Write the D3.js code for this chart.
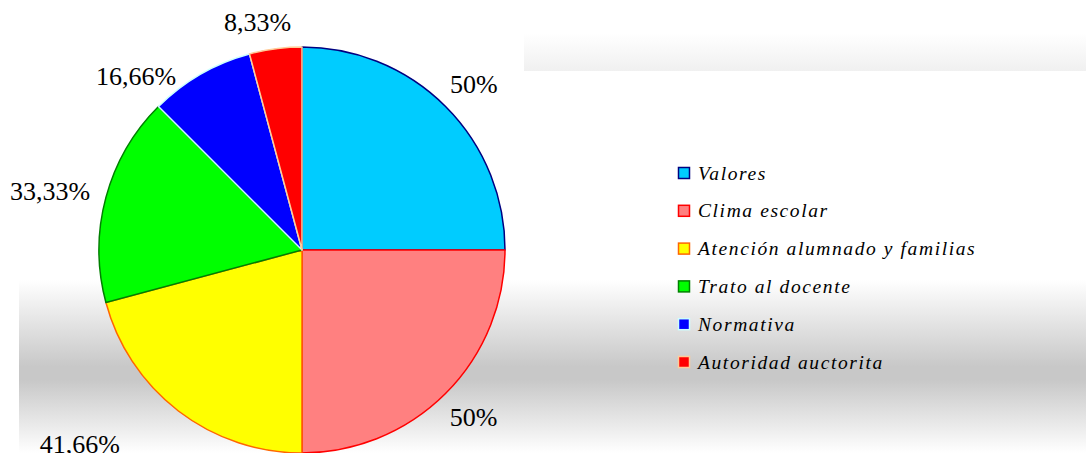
<!DOCTYPE html>
<html>
<head>
<meta charset="utf-8">
<script src="https://cdn.jsdelivr.net/npm/d3@7/dist/d3.min.js"></script>
<style>
  body { margin: 0; background: #fff; }
  svg { display: block; }
  svg text { font-family: "Liberation Serif", "Times New Roman", serif; }
</style>
</head>
<body>
<div id="chart"></div>
<script>
// data
var categories = ["Valores", "Clima escolar", "Atención alumnado y familias",
                  "Trato al docente", "Normativa", "Autoridad auctorita"];
var values = [50, 50, 41.66, 33.33, 16.66, 8.33];
var valueLabels = ["50%", "50%", "41,66%", "33,33%", "16,66%", "8,33%"];

var fills   = ["#00ccff", "#ff8080", "#ffff00", "#00ff00", "#0000ff", "#ff0000"];
var strokes = ["#000080", "#ff0000", "#ff6600", "#008000", "#ccffff", "#ffcc99"];
// nudges for the labels (Excel moved some of them away from the centroid)
var labelNudge = [[2, 4], [2, -2], [-76, 4], [-20, 4], [-46, 34], [-13, 10]];

var width = 1086, height = 453;
var cx = 302, cy = 250, radius = 203;

var svg = d3.select("#chart")
  .append("svg")
    .attr("width", width)
    .attr("height", height);

var defs = svg.append("defs");
var g1 = defs.append("linearGradient").attr("id", "bandTop")
  .attr("x1", 0).attr("y1", 0).attr("x2", 0).attr("y2", 1);
g1.append("stop").attr("offset", "0%").attr("stop-color", "#ffffff");
g1.append("stop").attr("offset", "100%").attr("stop-color", "#f0f0f0");

var g2 = defs.append("linearGradient").attr("id", "bandLow")
  .attr("x1", 0).attr("y1", 0).attr("x2", 0).attr("y2", 1);
g2.append("stop").attr("offset", "0%").attr("stop-color", "#ffffff");
g2.append("stop").attr("offset", "50%").attr("stop-color", "#c8c8c8");
g2.append("stop").attr("offset", "58%").attr("stop-color", "#c8c8c8");
g2.append("stop").attr("offset", "100%").attr("stop-color", "#ffffff");

// background bands
svg.append("rect")
  .attr("x", 524).attr("y", 33).attr("width", width - 524).attr("height", 38)
  .attr("fill", "url(#bandTop)");
svg.append("rect")
  .attr("x", 19).attr("y", 280).attr("width", width - 19).attr("height", height - 280)
  .attr("fill", "url(#bandLow)");

var pie = d3.pie().sort(null).value(function(d) { return d; });
var arcs = pie(values);

var arc = d3.arc().innerRadius(0).outerRadius(radius);
var labelArc = d3.arc().innerRadius(240).outerRadius(240);

var g = svg.append("g")
  .attr("transform", "translate(" + cx + "," + cy + ")");

g.selectAll("path.slice")
  .data(arcs)
  .enter()
  .append("path")
    .attr("class", "slice")
    .attr("d", arc)
    .attr("fill", function(d, i) { return fills[i]; })
    .attr("stroke", function(d, i) { return strokes[i]; })
    .attr("stroke-width", 1.5)
    .attr("stroke-linejoin", "round");

g.selectAll("text.lbl")
  .data(arcs)
  .enter()
  .append("text")
    .attr("class", "lbl")
    .attr("transform", function(d, i) {
      var c = labelArc.centroid(d);
      return "translate(" + (c[0] + labelNudge[i][0]) + "," + (c[1] + labelNudge[i][1]) + ")";
    })
    .attr("text-anchor", "middle")
    .attr("dominant-baseline", "central")
    .style("font-size", "26px")
    .attr("fill", "#000")
    .text(function(d, i) { return valueLabels[i]; });

// legend
var legend = svg.append("g").attr("transform", "translate(678,173)");
var rowH = 37.8;

legend.selectAll("rect")
  .data(categories)
  .enter()
  .append("rect")
    .attr("x", 0.5)
    .attr("y", function(d, i) { return i * rowH - 5.5; })
    .attr("width", 11)
    .attr("height", 11)
    .attr("fill", function(d, i) { return fills[i]; })
    .attr("stroke", function(d, i) { return strokes[i]; })
    .attr("stroke-width", 1.5);

legend.selectAll("text.leg")
  .data(categories)
  .enter()
  .append("text")
    .attr("class", "leg")
    .attr("x", 20)
    .attr("y", function(d, i) { return i * rowH; })
    .attr("dominant-baseline", "central")
    .style("font-style", "italic")
    .style("font-size", "19.5px")
    .style("letter-spacing", "1.6px")
    .attr("fill", "#000")
    .text(function(d) { return d; });
</script>
</body>
</html>
